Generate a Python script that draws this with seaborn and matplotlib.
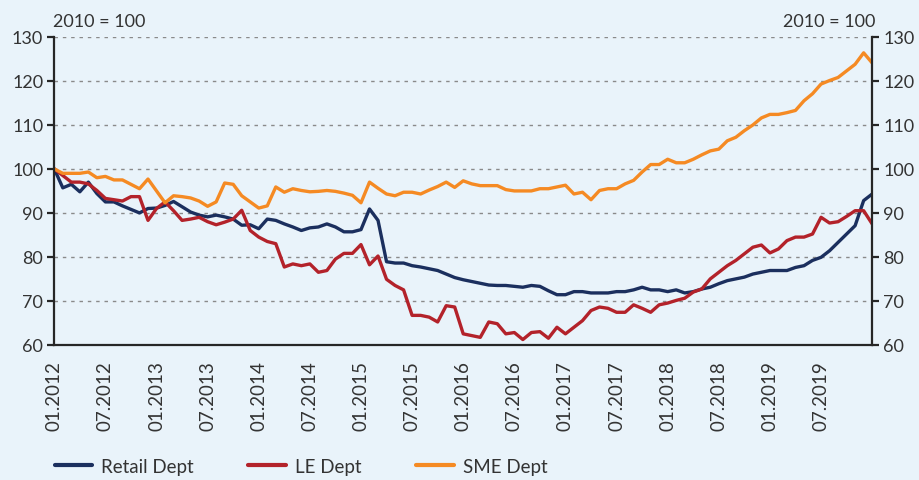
import numpy as np
import pandas as pd
import seaborn as sns
import matplotlib.pyplot as plt

# monthly index values, 01.2012 .. 01.2020 (2010 = 100)
retail = [100, 95.7, 96.5, 94.8, 97.0, 94.4, 92.5, 92.5, 91.6, 90.8, 90.0, 91.0,
          91.1, 91.7, 92.6, 91.4, 90.2, 89.5, 89.1, 89.5, 89.1, 88.6, 87.2, 87.3,
          86.4, 88.6, 88.3, 87.5, 86.8, 86.0, 86.6, 86.8, 87.5, 86.8, 85.7, 85.7,
          86.2, 90.9, 88.3, 78.9, 78.6, 78.6, 78.0, 77.7, 77.3, 76.9, 76.1, 75.3,
          74.8, 74.4, 74.0, 73.6, 73.5, 73.5, 73.3, 73.1, 73.5, 73.3, 72.3, 71.4,
          71.4, 72.1, 72.1, 71.8, 71.8, 71.8, 72.1, 72.1, 72.5, 73.1, 72.5, 72.5,
          72.1, 72.5, 71.8, 72.1, 72.7, 73.1, 73.9, 74.6, 75.0, 75.4, 76.1, 76.5,
          76.9, 76.9, 76.9, 77.6, 78.0, 79.2, 79.9, 81.4, 83.3, 85.2, 87.1, 92.8,
          94.3]
le = [100, 98.5, 97.0, 97.0, 96.6, 95.1, 93.3, 93.0, 92.7, 93.7, 93.7, 88.3,
      91.0, 92.5, 90.5, 88.3, 88.6, 89.0, 88.0, 87.3, 87.9, 88.6, 90.6, 86.0,
      84.5, 83.5, 83.0, 77.7, 78.4, 78.0, 78.4, 76.5, 76.9, 79.5, 80.8, 80.8,
      82.8, 78.2, 80.2, 74.9, 73.5, 72.5, 66.7, 66.7, 66.3, 65.2, 68.9, 68.6,
      62.5, 62.1, 61.7, 65.2, 64.8, 62.5, 62.8, 61.2, 62.8, 63.0, 61.5, 64.0,
      62.5, 64.0, 65.5, 67.8, 68.6, 68.3, 67.4, 67.4, 69.1, 68.3, 67.4, 69.1,
      69.5, 70.1, 70.6, 72.0, 72.7, 75.0, 76.5, 78.0, 79.2, 80.7, 82.2, 82.7,
      80.9, 81.8, 83.7, 84.5, 84.5, 85.2, 89.0, 87.7, 88.0, 89.2, 90.5, 90.5,
      87.5]
sme = [100, 99.0, 99.0, 99.0, 99.3, 98.0, 98.3, 97.5, 97.5, 96.5, 95.5, 97.7,
       95.0, 92.3, 93.9, 93.7, 93.4, 92.7, 91.5, 92.5, 96.8, 96.5, 93.9, 92.5,
       91.1, 91.6, 95.9, 94.7, 95.5, 95.1, 94.8, 94.9, 95.1, 94.9, 94.5, 94.0,
       92.3, 97.0, 95.6, 94.3, 93.9, 94.7, 94.7, 94.3, 95.2, 96.0, 97.0, 95.8,
       97.3, 96.6, 96.2, 96.2, 96.2, 95.3, 95.0, 95.0, 95.0, 95.5, 95.5, 95.9,
       96.3, 94.3, 94.7, 93.0, 95.1, 95.5, 95.5, 96.6, 97.4, 99.3, 101.0, 101.0,
       102.2, 101.4, 101.4, 102.2, 103.2, 104.1, 104.5, 106.4, 107.2, 108.7, 110.0, 111.6,
       112.4, 112.4, 112.8, 113.3, 115.5, 117.1, 119.3, 120.1, 120.8, 122.3, 123.8, 126.4,
       124.1]

tick_labels = ["01.2012", "07.2012", "01.2013", "07.2013", "01.2014", "07.2014",
               "01.2015", "07.2015", "01.2016", "07.2016", "01.2017", "07.2017",
               "01.2018", "07.2018", "01.2019", "07.2019", ""]

series = ["Retail Dept", "LE Dept", "SME Dept"]
colors = ["#1b2f5e", "#b3222a", "#f58a23"]

months = np.arange(len(retail))
df = pd.concat([
    pd.DataFrame({"month": months, "value": vals, "series": name})
    for name, vals in zip(series, [retail, le, sme])
])

bg = "#e9f3fa"
sns.set_style("white")
plt.rcParams["font.family"] = ["Lato", "DejaVu Sans"]

fig, ax = plt.subplots(figsize=(9.2, 4.81), dpi=100)
fig.patch.set_facecolor(bg)
ax.set_facecolor(bg)
fig.subplots_adjust(left=0.059, right=0.948, top=0.921, bottom=0.281)

sns.lineplot(data=df, x="month", y="value", hue="series", hue_order=series,
             palette=colors, linewidth=2.4, ax=ax, legend=False)

ax.set_xlim(0, 96)
ax.set_ylim(60, 130)
ax.set_yticks(range(60, 131, 10))
ax.set_xticks(range(0, 97, 6))
ax.set_xticklabels(tick_labels, rotation=90, fontsize=13.5, color="#333333")
ax.set_xlabel("")
ax.set_ylabel("")

for y in range(70, 131, 10):
    ax.axhline(y, color="#8a8a8a", lw=1.0, ls=(0, (2.5, 3.5)), zorder=0)

for side in ["left", "right", "bottom"]:
    ax.spines[side].set_visible(True)
    ax.spines[side].set_color("#262626")
    ax.spines[side].set_linewidth(1.6)
ax.spines["top"].set_visible(False)

ax.tick_params(axis="y", which="both", left=True, right=True, labelleft=True,
               labelright=True, direction="out", length=5, width=1.6,
               color="#262626", labelsize=13, labelcolor="#333333", pad=3)
ax.tick_params(axis="x", direction="out", length=5, width=1.6, color="#262626",
               pad=6)

fig.text(0.058, 0.955, "2010 = 100", fontsize=13, color="#333333", ha="left", va="center")
fig.text(0.952, 0.955, "2010 = 100", fontsize=13, color="#333333", ha="right", va="center")

handles = [plt.Line2D([], [], color=c, lw=3) for c in colors]
fig.legend(handles, series, loc="center left", bbox_to_anchor=(0.045, 0.028),
           ncol=3, frameon=False, fontsize=13.5, handlelength=2.0,
           columnspacing=2.9, handletextpad=0.5, labelcolor="#333333",
           borderpad=0.2)

fig.savefig("out.png", dpi=100, facecolor=bg)
